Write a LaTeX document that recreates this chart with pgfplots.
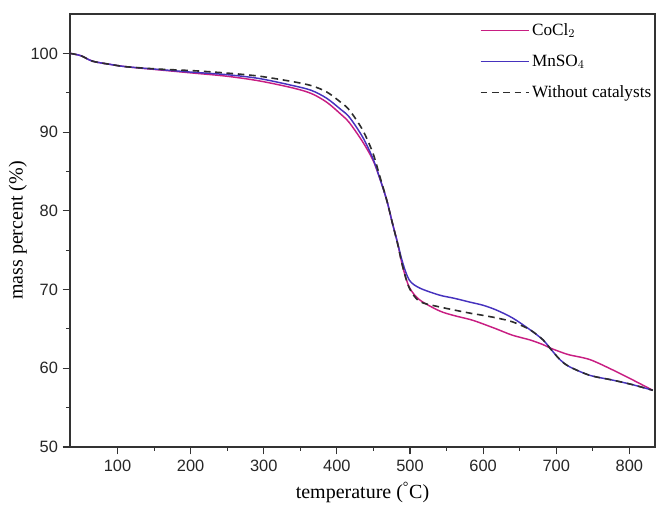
\documentclass[border=0pt]{standalone}
\usepackage{pgfplots}
\pgfplotsset{compat=1.18}
\usepackage{fontspec}
\setmainfont{Liberation Serif}
\newfontfamily\arialf{Liberation Sans}
\definecolor{cocl}{RGB}{200,30,130}
\definecolor{mnso}{RGB}{70,50,190}
\definecolor{woc}{RGB}{45,45,45}
\begin{document}
\begin{tikzpicture}
\path[use as bounding box] (-52.5pt,-44.25pt) rectangle (440.25pt,335.25pt);
\begin{axis}[
  scale only axis,
  width=438.75pt, height=324.75pt,
  xmin=35, xmax=835, ymin=50, ymax=105,
  xtick={100,200,...,800}, ytick={50,60,...,100},
  minor x tick num=1, minor y tick num=1,
  tick align=outside, xtick pos=left, ytick pos=left,
  major tick length=5.5pt, minor tick length=3pt,
  axis line style={line width=0.8pt, black!80},
  every tick/.style={line width=0.8pt, black!80},
  /pgf/number format/assume math mode=true,
  ticklabel style={font=\arialf\fontsize{12.3}{14}\selectfont, black!85},
  xticklabel style={yshift=-1pt},
  xlabel={temperature (\textsuperscript{\textdegree}C)},
  ylabel={mass percent (\%)},
  label style={font=\fontsize{15}{17}\selectfont},
  xlabel style={at={(axis description cs:0.5,-0.106)}, anchor=center},
  ylabel style={at={(axis description cs:-0.089,0.5)}, anchor=center},
  legend style={at={(axis description cs:0.70,0.985)}, anchor=north west,
    draw=none, fill=none, font=\fontsize{12.9}{15}\selectfont,
    row sep=9pt, inner sep=0pt},
  legend cell align=left,
  legend image code/.code={\draw[#1] (0pt,0pt) -- (36pt,0pt);},
]
\addplot[cocl, line width=1.1pt, smooth] coordinates {
(35,100.0) (50,99.7) (66,99.0) (90,98.6) (112,98.3) (157,97.9) (203,97.5)
(249,97.1) (294,96.5) (340,95.6) (365,94.9) (386,93.8) (405,92.3) (417,91.2)
(435,88.8) (449,86.5) (458,84.3) (468,81.4) (476,78.4) (483,75.9) (490,72.9)
(499,70.3) (513,68.7) (540,67.3) (560,66.7) (582,66.2) (595,65.8) (618,65.0)
(640,64.2) (664,63.6) (682,63.0) (691,62.6) (705,62.1) (718,61.7) (746,61.1)
(777,59.8) (805,58.5) (832,57.2)};
\addlegendentry{CoCl$_2$}
\addplot[mnso, line width=1.1pt, smooth] coordinates {
(35,100.0) (50,99.7) (66,99.0) (90,98.6) (112,98.3) (157,97.95) (203,97.6)
(249,97.3) (294,96.8) (340,95.9) (365,95.3) (386,94.3) (405,92.9) (417,91.9)
(435,89.4) (449,86.7) (458,84.3) (468,81.4) (476,78.4) (483,75.9) (490,73.4)
(499,71.2) (513,70.2) (540,69.3) (560,68.9) (582,68.4) (600,68.0) (618,67.4)
(640,66.4) (664,64.9) (682,63.6) (691,62.6) (705,61.1) (718,60.2) (746,59.1)
(777,58.5) (805,57.9) (832,57.2)};
\addlegendentry{MnSO$_4$}
\addplot[woc, line width=1.2pt, dash pattern=on 5pt off 3.5pt, smooth] coordinates {
(35,100.0) (50,99.7) (66,99.0) (90,98.6) (112,98.3) (157,98.0) (203,97.8)
(249,97.5) (294,97.1) (340,96.4) (365,95.9) (386,95.1) (405,93.8) (417,92.8)
(435,90.3) (449,87.4) (458,84.6) (468,81.4) (476,78.4) (483,75.8) (490,72.9)
(499,70.2) (513,68.5) (540,67.8) (582,67.0) (595,66.8) (618,66.4) (640,65.9)
(664,64.9) (682,63.6) (691,62.6) (705,61.1) (718,60.2) (746,59.1) (777,58.5)
(805,57.9) (832,57.2)};
\addlegendentry{Without catalysts}
\end{axis}
\end{tikzpicture}
\end{document}
